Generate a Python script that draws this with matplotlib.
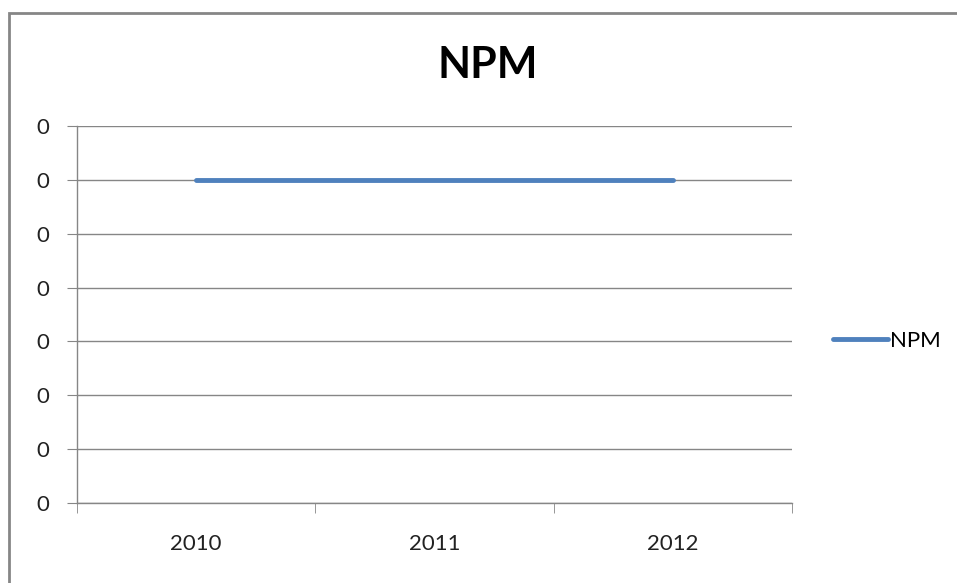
import matplotlib
matplotlib.use("Agg")
import matplotlib.pyplot as plt
import matplotlib.patches as mpatches
from matplotlib.ticker import FixedLocator, FuncFormatter

years = ["2010", "2011", "2012"]
npm = [0.06, 0.06, 0.06]
y_ticks = [0.0, 0.01, 0.02, 0.03, 0.04, 0.05, 0.06, 0.07]

plt.rcParams["font.family"] = ["Lato", "DejaVu Sans"]

fig = plt.figure(figsize=(9.57, 5.83), dpi=100)
ax = fig.add_axes([77 / 957, 1 - 503 / 583, (792 - 77) / 957, (503 - 126) / 583])

# 图表外框
fig.patches.append(mpatches.Rectangle((9 / 957, -0.1), 1.2, 1 - 13 / 583 + 0.1,
                                      transform=fig.transFigure, fill=False,
                                      edgecolor="#868686", linewidth=2))

x = list(range(len(years)))
ax.plot(x, npm, color="#4F81BD", linewidth=3.5, solid_capstyle="round", label="NPM")

ax.set_xlim(-0.5, len(years) - 0.5)
ax.set_ylim(y_ticks[0], y_ticks[-1])
ax.set_yticks(y_ticks)
ax.yaxis.set_major_formatter(FuncFormatter(lambda v, p: "0"))
ax.grid(axis="y", color="#868686", linewidth=1)
ax.set_axisbelow(True)

ax.set_xticks(x)
ax.set_xticklabels(years)
ax.xaxis.set_minor_locator(FixedLocator([i - 0.5 for i in range(len(years) + 1)]))
ax.tick_params(axis="x", which="major", length=0, pad=22, labelsize=16, colors="#222222")
ax.tick_params(axis="x", which="minor", length=7, color="#868686", direction="out")
ax.tick_params(axis="y", length=7, color="#868686", pad=13, labelsize=16, labelcolor="#222222")

for side in ["top", "right"]:
    ax.spines[side].set_visible(False)
for side in ["left", "bottom"]:
    ax.spines[side].set_color("#868686")
    ax.spines[side].set_linewidth(1)

fig.text(488 / 957, 1 - 65 / 583, "NPM", fontsize=31, fontweight="bold",
         ha="center", va="center")

fig.legend(loc="center left", bbox_to_anchor=(824 / 957, 1 - 341 / 583),
           frameon=False, fontsize=16, handlelength=2.5, handletextpad=0.05,
           borderaxespad=0)

fig.savefig("out.png", dpi=100)
